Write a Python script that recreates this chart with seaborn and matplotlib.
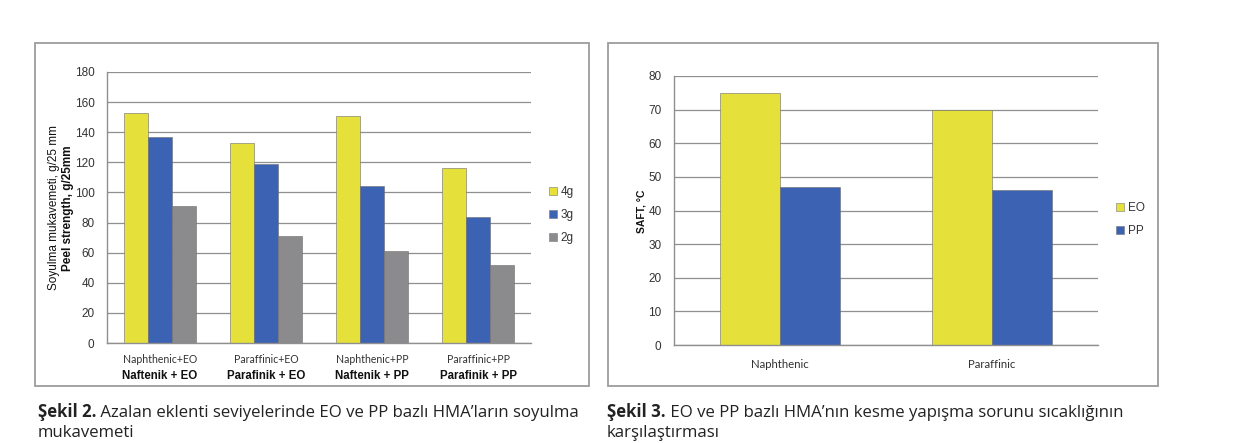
import pandas as pd
import matplotlib
matplotlib.use("Agg")
import matplotlib.pyplot as plt
import seaborn as sns
from matplotlib.patches import Rectangle, Patch

# --- data ---
peel_groups = ["Naphthenic+EO", "Paraffinic+EO", "Naphthenic+PP", "Paraffinic+PP"]
peel_groups_tr = ["Naftenik + EO", "Parafinik + EO", "Naftenik + PP", "Parafinik + PP"]
peel_levels = ["4g", "3g", "2g"]
peel_4g = [153, 133, 151, 116]
peel_3g = [137, 119, 104, 84]
peel_2g = [91, 71, 61, 52]

saft_groups = ["Naphthenic", "Paraffinic"]
saft_types = ["EO", "PP"]
saft_eo = [75, 70]
saft_pp = [47, 46]

caption2_bold = "Şekil 2."
caption2_rest = [" Azalan eklenti seviyelerinde EO ve PP bazlı HMA’ların soyulma", "mukavemeti"]
caption3_bold = "Şekil 3."
caption3_rest = [" EO ve PP bazlı HMA’nın kesme yapışma sorunu sıcaklığının", "karşılaştırması"]

YELLOW = "#e6e13a"
BLUE = "#3c62b3"
GRAY = "#8b8b8d"
LINE = "#8f8f8f"
TXT = "#333333"

W, H = 1242, 443


def fx(px):
    return px / W


def fy(py):
    return 1 - py / H


def style_axes(ax, ymax, ystep, ncat):
    ax.set_ylim(0, ymax)
    ax.set_xlim(-0.5, ncat - 0.5)
    ax.set_yticks(range(0, ymax + 1, ystep))
    ax.yaxis.grid(True, color=LINE, linewidth=0.9)
    ax.xaxis.grid(False)
    ax.set_axisbelow(True)
    for s in ["top", "right"]:
        ax.spines[s].set_visible(False)
    for s in ["left", "bottom"]:
        ax.spines[s].set_color(LINE)
        ax.spines[s].set_linewidth(1.0)
    ax.set_xticks([i + 0.5 for i in range(-1, ncat)], minor=True)
    ax.tick_params(axis="x", which="major", length=0)
    ax.tick_params(axis="x", which="minor", length=4, color=LINE, direction="out")
    ax.tick_params(axis="y", length=4, color=LINE, labelcolor=TXT, labelsize=8.5, pad=5)
    ax.set_xlabel("")
    ax.set_ylabel("")
    leg = ax.get_legend()
    if leg is not None:
        leg.remove()


sns.set_theme(style="white")
plt.rcParams["font.family"] = ["Liberation Sans", "DejaVu Sans"]

fig = plt.figure(figsize=(W / 100, H / 100), dpi=100)

# frames around both panels
for x0, x1 in [(35, 589), (608, 1158)]:
    fig.patches.append(Rectangle((fx(x0), fy(386)), fx(x1 - x0), (386 - 43) / H,
                                 transform=fig.transFigure, fill=False,
                                 edgecolor="#9c9c9c", linewidth=1.3))

# ---- left chart: peel strength ----
peel_df = pd.DataFrame({
    "group": peel_groups * 3,
    "level": [lv for lv in peel_levels for _ in peel_groups],
    "value": peel_4g + peel_3g + peel_2g,
})
ax1 = fig.add_axes([fx(107), fy(343), fx(531 - 107), (343 - 72) / H])
sns.barplot(data=peel_df, x="group", y="value", hue="level", order=peel_groups,
            hue_order=peel_levels, palette=[YELLOW, BLUE, GRAY], width=0.67,
            saturation=1, edgecolor="#6d6d6d", linewidth=0.4, ax=ax1)
style_axes(ax1, 180, 20, len(peel_groups))
ax1.set_xticks(range(len(peel_groups)))
ax1.set_xticklabels(peel_groups, fontsize=7.6, color=TXT, family=["Lato", "DejaVu Sans"])
ax1.tick_params(axis="x", which="major", pad=8)
for i, lab in enumerate(peel_groups_tr):
    ax1.text(i, -0.12, lab, transform=ax1.get_xaxis_transform(), ha="center",
             va="center", fontsize=8.3, fontweight="bold", color="#111111")

fig.text(fx(54), fy(208), "Soyulma mukavemeti, g/25 mm", rotation=90, ha="center",
         va="center", fontsize=8.5, color="#111111")
fig.text(fx(68.5), fy(208), "Peel strength, g/25mm", rotation=90, ha="center",
         va="center", fontsize=8.5, fontweight="bold", color="#111111")

fig.legend(handles=[Patch(facecolor=c, edgecolor="#777777", linewidth=0.4, label=l)
                    for c, l in zip([YELLOW, BLUE, GRAY], peel_levels)],
           loc="center left", bbox_to_anchor=(fx(549), fy(215)), frameon=False,
           fontsize=8.5, handlelength=0.65, handleheight=0.65, handletextpad=0.35,
           labelspacing=0.95, borderaxespad=0, borderpad=0, labelcolor=TXT)

# ---- right chart: SAFT ----
saft_df = pd.DataFrame({
    "group": saft_groups * 2,
    "type": [t for t in saft_types for _ in saft_groups],
    "value": saft_eo + saft_pp,
})
ax2 = fig.add_axes([fx(674), fy(345), fx(1098 - 674), (345 - 76) / H])
sns.barplot(data=saft_df, x="group", y="value", hue="type", order=saft_groups,
            hue_order=saft_types, palette=[YELLOW, BLUE], width=0.57,
            saturation=1, edgecolor="#6d6d6d", linewidth=0.4, ax=ax2)
style_axes(ax2, 80, 10, len(saft_groups))
ax2.set_xticks(range(len(saft_groups)))
ax2.set_xticklabels(saft_groups, fontsize=8.2, color=TXT, family=["Lato", "DejaVu Sans"])
ax2.tick_params(axis="x", which="major", pad=10)

fig.text(fx(641), fy(211), "SAFT, °C", rotation=90, ha="center", va="center",
         fontsize=7.5, fontweight="bold", color="#111111")

fig.legend(handles=[Patch(facecolor=c, edgecolor="#777777", linewidth=0.4, label=l)
                    for c, l in zip([YELLOW, BLUE], saft_types)],
           loc="center left", bbox_to_anchor=(fx(1116), fy(219.5)), frameon=False,
           fontsize=8.5, handlelength=0.65, handleheight=0.65, handletextpad=0.35,
           labelspacing=0.95, borderaxespad=0, borderpad=0, labelcolor=TXT)

# ---- captions below the panels ----
cap_font = ["Open Sans", "DejaVu Sans"]
fig.canvas.draw()
renderer = fig.canvas.get_renderer()
for x0, bold, rest in [(38, caption2_bold, caption2_rest), (607, caption3_bold, caption3_rest)]:
    t = fig.text(fx(x0), fy(417), bold, fontsize=12.1, fontweight="bold", family=cap_font,
                 color="#222222", va="baseline")
    bb = t.get_window_extent(renderer)
    fig.text(bb.x1 / W, fy(417), rest[0], fontsize=12.1, family=cap_font,
             color="#222222", va="baseline")
    fig.text(fx(x0), fy(437), rest[1], fontsize=12.1, family=cap_font,
             color="#222222", va="baseline")

fig.savefig("out.png", dpi=100)
